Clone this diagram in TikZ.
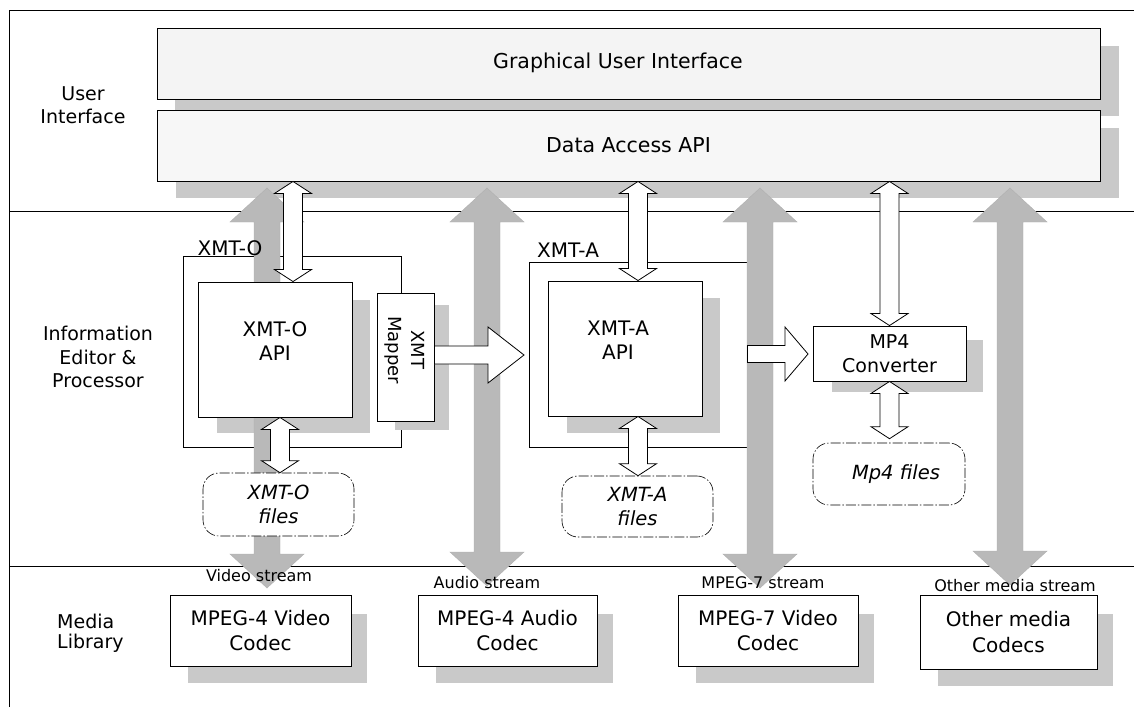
\documentclass[tikz,border=0pt]{standalone}
\usepackage{fontspec}
\setmainfont{DejaVu Sans}
\usetikzlibrary{calc}
\pgfdeclarelayer{bg}
\pgfdeclarelayer{mid}
\pgfdeclarelayer{fg}
\pgfsetlayers{bg,mid,main,fg}
\tikzset{
  box/.style={draw=black, line width=0.9pt, fill=white, inner sep=0pt, align=center},
  outerbox/.style={draw=black, line width=1pt, inner sep=0pt},
  frameline/.style={draw=black, line width=1pt},
  shadowc/.style={fill=gray!42},
  grayarrow/.style={fill=gray!55, draw=gray!62, line width=0.4pt},
  whitearrow/.style={fill=white, draw=black, line width=0.8pt, line join=miter},
  vdbl/.style n args={3}{to path={let \p1=(\tikztostart), \p2=(\tikztotarget) in (\p1) -- (\x1+#1,\y1-#3) -- (\x1+#2,\y1-#3) -- (\x2+#2,\y2+#3) -- (\x2+#1,\y2+#3) -- (\p2) -- (\x2-#1,\y2+#3) -- (\x2-#2,\y2+#3) -- (\x1-#2,\y1-#3) -- (\x1-#1,\y1-#3) -- cycle}},
  hsgl/.style n args={3}{to path={let \p1=(\tikztostart), \p2=(\tikztotarget) in (\x1,\y1+#2) -- (\x2-#3,\y1+#2) -- (\x2-#3,\y1+#1) -- (\x2,\y1) -- (\x2-#3,\y1-#1) -- (\x2-#3,\y1-#2) -- (\x1,\y1-#2) -- cycle}},
  grayv/.style={grayarrow, vdbl={37pt}{13pt}{34pt}},
  whitev/.style={whitearrow, vdbl={18.5pt}{9.5pt}{12pt}},
  filesbox/.style={draw=black, line width=0.6pt, dash pattern=on 10pt off 2pt on 1.5pt off 2pt, rounded corners=16pt, fill=white, inner sep=0pt, align=center, font=\itshape\fontsize{19.5}{24}\selectfont},
  lblf/.style={font=\fontsize{19}{23.5}\selectfont, align=center, inner sep=0pt},
  bigf/.style={font=\fontsize{20.5}{24}\selectfont, inner sep=0pt},
  boxf/.style={font=\fontsize{20}{25.5}\selectfont},
  smallf/.style={font=\fontsize{16}{18}\selectfont, inner sep=0pt},
}
\begin{document}
\begin{tikzpicture}[x=1pt,y=-1pt]
\begin{pgfonlayer}{bg}
\fill[white] (0,0) rectangle (1134,707);
\end{pgfonlayer}
\useasboundingbox (0,0) rectangle (1134,707);

% ---------- top boxes ----------
\node[box, fill=gray!9, minimum width=943pt, minimum height=71pt] (gui) at (628.5,63.5) {};
\node[bigf] (guit) at (618,63) {Graphical User Interface};
\node[box, fill=gray!6, minimum width=943pt, minimum height=71pt, bigf] (da) at (628.5,145.5) {Data Access API};

% ---------- middle boxes ----------
\begin{pgfonlayer}{bg}
\node[outerbox, minimum width=218pt, minimum height=191pt] (xmtO) at (292,351.5) {};
\node[outerbox, minimum width=218pt, minimum height=185pt] (xmtA) at (638,354.5) {};
\end{pgfonlayer}
\node[box, minimum width=154pt, minimum height=135pt] (apiO) at (275,349.5) {};
\node[boxf, align=center, inner sep=0pt, font=\fontsize{20}{24}\selectfont] (apiOt) at (275,341) {XMT-O\\API};
\node[box, minimum width=57pt, minimum height=128pt] (mapper) at (405.5,357) {};
\node[rotate=-90, font=\fontsize{18}{23}\selectfont, align=center, inner sep=0pt] (mappert) at (405,350) {XMT\\Mapper};
\node[filesbox, minimum width=151pt, minimum height=63pt] (filesO) at (278.5,504.5) {XMT-O\\files};

\node[box, minimum width=154pt, minimum height=135pt] (apiA) at (625,348.5) {};
\node[boxf, align=center, inner sep=0pt, font=\fontsize{20}{24}\selectfont] (apiAt) at (618,340) {XMT-A\\API};
\node[filesbox, minimum width=151pt, minimum height=61pt] (filesA) at (637.5,506.5) {XMT-A\\files};

\node[box, minimum width=153pt, minimum height=55pt, font=\fontsize{19}{24}\selectfont] (mp4) at (889.5,353.5) {MP4\\Converter};
\node[filesbox, minimum width=152pt, minimum height=62pt] (filesM) at (889,474) {\hspace*{14pt}Mp4 files};

% ---------- codecs ----------
\node[box, boxf, minimum width=181pt, minimum height=71pt] (vid) at (260.5,630.5) {MPEG-4 Video\\Codec};
\node[box, boxf, minimum width=179pt, minimum height=71pt] (aud) at (507.5,630.5) {MPEG-4 Audio\\Codec};
\node[box, boxf, minimum width=180pt, minimum height=71pt] (mp7) at (768,630.5) {MPEG-7 Video\\Codec};
\node[box, boxf, minimum width=177pt, minimum height=74pt] (oth) at (1008.5,632) {Other media\\Codecs};

% ---------- background: frame and shadows ----------
\begin{pgfonlayer}{bg}
\draw[frameline] (9.5,707) -- (9.5,10) -- (1134,10);
\draw[frameline] (9.5,211) -- (1134,211);
\draw[frameline] (9.5,566) -- (1134,566);
\fill[shadowc] ($(gui.north west)+(18,18)$) rectangle ($(gui.south east)+(19,17)$);
\fill[shadowc] ($(da.north west)+(19,18)$) rectangle ($(da.south east)+(19,17)$);
\fill[shadowc] ($(apiO.north west)+(19,18)$) rectangle ($(apiO.south east)+(18,16)$);
\fill[shadowc] ($(mapper.north west)+(18,12)$) rectangle ($(mapper.south east)+(15,9)$);
\fill[shadowc] ($(apiA.north west)+(19,17)$) rectangle ($(apiA.south east)+(18,17)$);
\fill[shadowc] ($(mp4.north west)+(19,14)$) rectangle ($(mp4.south east)+(17,11)$);
\foreach \c in {vid,aud,mp7,oth}
  \fill[shadowc] ($(\c.north west)+(18,19)$) rectangle ($(\c.south east)+(16,17)$);
\end{pgfonlayer}

% ---------- gray stream arrows ----------
\coordinate (gvT) at (267,188);  \coordinate (gvB) at (267,588);
\coordinate (gaT) at (487,188);  \coordinate (gaB) at (487,586);
\coordinate (gmT) at (760,188);  \coordinate (gmB) at (760,588);
\coordinate (goT) at (1010,188); \coordinate (goB) at (1010,585);
\begin{pgfonlayer}{mid}
\draw[grayv] (gvT) to (gvB);
\draw[grayv] (gaT) to (gaB);
\draw[grayv] (gmT) to (gmB);
\draw[grayv] (goT) to (goB);
\end{pgfonlayer}

% ---------- white arrows and labels ----------
\coordinate (cO) at (293,0);
\coordinate (cOf) at (280,0);
\coordinate (cA) at (638,0);
\coordinate (cM) at (889.5,0);
\coordinate (hA) at (524,355);
\coordinate (hM) at (808,354);
\begin{pgfonlayer}{fg}
\draw[whitev] (cO |- da.south) to (cO |- apiO.north);
\draw[whitev] (cOf |- apiO.south) to (cOf |- filesO.north);
\draw[whitev] (cA |- da.south) to (cA |- apiA.north);
\draw[whitev] (cA |- apiA.south) to (cA |- filesA.north);
\draw[whitev] (cM |- da.south) to (cM |- mp4.north);
\draw[whitev] (cM |- mp4.south) to ([yshift=4pt]cM |- filesM.north);
\draw[whitearrow, hsgl={28pt}{9pt}{36pt}] (mapper.east |- hA) to (hA);
\draw[whitearrow, hsgl={27pt}{8.5pt}{23pt}] (xmtA.east |- hM) to (hM);

\node[lblf] (ui) at (83,105) {User\\Interface};
\node[lblf] (iep) at (98,357) {Information\\Editor \&\\Processor};
\node[font=\fontsize{19}{19.5}\selectfont, align=left, anchor=west, inner sep=0pt] (ml) at (57,633) {Media\\Library};

\node[font=\fontsize{20}{24}\selectfont, inner sep=0pt] (xmtOl) at (230,248) {XMT-O};
\node[font=\fontsize{20}{24}\selectfont, inner sep=0pt] (xmtAl) at (568,250) {XMT-A};

\node[smallf] (vs) at (259,576) {Video stream};
\node[smallf] (as) at (487,583) {Audio stream};
\node[smallf] (ms) at (763,583) {MPEG-7 stream};
\node[smallf] (os) at (1015,586) {Other media stream};
\end{pgfonlayer}
\end{tikzpicture}
\end{document}
